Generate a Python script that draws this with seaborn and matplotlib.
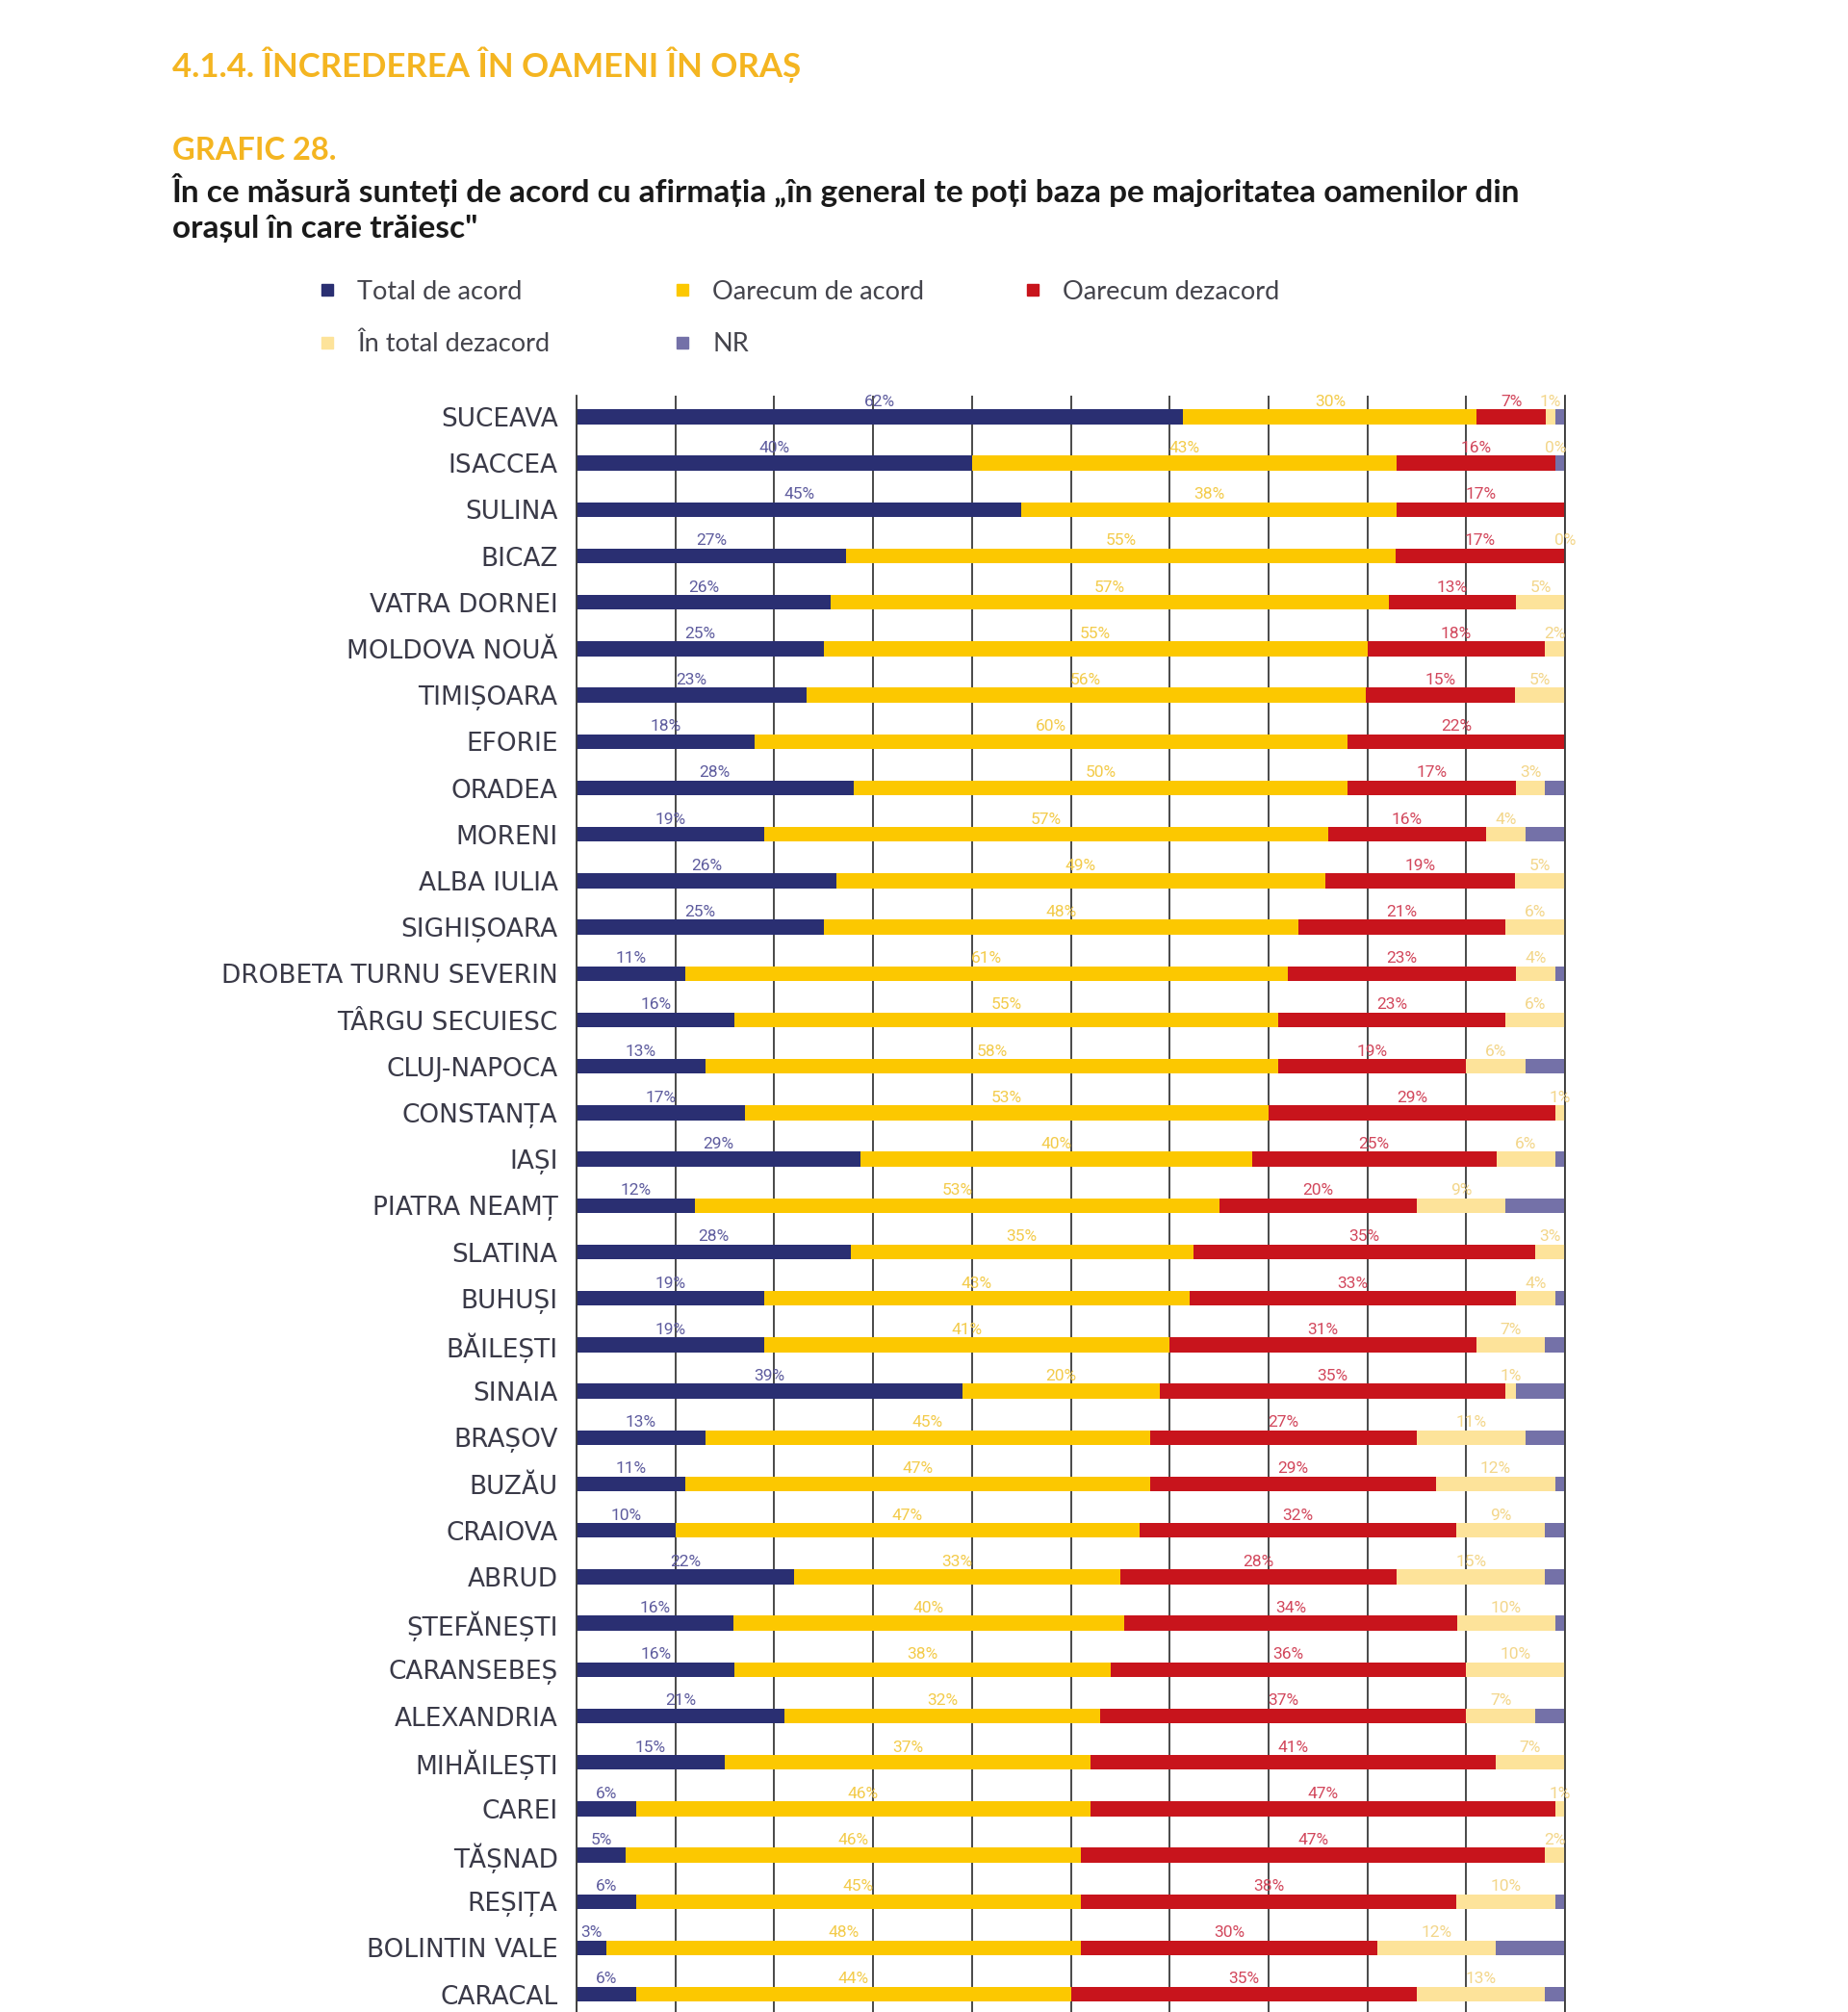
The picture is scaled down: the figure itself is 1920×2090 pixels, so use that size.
import pandas as pd
import seaborn as sns
import matplotlib.pyplot as plt
from matplotlib.lines import Line2D

# date (procente)
cities = ["SUCEAVA", "ISACCEA", "SULINA", "BICAZ", "VATRA DORNEI", "MOLDOVA NOUĂ",
          "TIMIȘOARA", "EFORIE", "ORADEA", "MORENI", "ALBA IULIA", "SIGHIȘOARA",
          "DROBETA TURNU SEVERIN", "TÂRGU SECUIESC", "CLUJ-NAPOCA", "CONSTANȚA", "IAȘI",
          "PIATRA NEAMȚ", "SLATINA", "BUHUȘI", "BĂILEȘTI", "SINAIA", "BRAȘOV", "BUZĂU",
          "CRAIOVA", "ABRUD", "ȘTEFĂNEȘTI", "CARANSEBEȘ", "ALEXANDRIA", "MIHĂILEȘTI",
          "CAREI", "TĂȘNAD", "REȘIȚA", "BOLINTIN VALE", "CARACAL"]
total_acord = [62, 40, 45, 27, 26, 25, 23, 18, 28, 19, 26, 25, 11, 16, 13, 17, 29, 12,
               28, 19, 19, 39, 13, 11, 10, 22, 16, 16, 21, 15, 6, 5, 6, 3, 6]
oarecum_acord = [30, 43, 38, 55, 57, 55, 56, 60, 50, 57, 49, 48, 61, 55, 58, 53, 40, 53,
                 35, 43, 41, 20, 45, 47, 47, 33, 40, 38, 32, 37, 46, 46, 45, 48, 44]
oarecum_dezacord = [7, 16, 17, 17, 13, 18, 15, 22, 17, 16, 19, 21, 23, 23, 19, 29, 25, 20,
                    35, 33, 31, 35, 27, 29, 32, 28, 34, 36, 37, 41, 47, 47, 38, 30, 35]
# None = fara eticheta in grafic
total_dezacord = [1, 0, None, 0, 5, 2, 5, None, 3, 4, 5, 6, 4, 6, 6, 1, 6, 9,
                  3, 4, 7, 1, 11, 12, 9, 15, 10, 10, 7, 7, 1, 2, 10, 12, 13]
nr = [1, 1, 0, 0, 0, 0, 0, 0, 2, 4, 0, 0, 1, 0, 4, 0, 1, 6,
      0, 1, 2, 5, 4, 1, 2, 2, 1, 0, 3, 0, 0, 0, 1, 7, 2]

series = ["Total de acord", "Oarecum de acord", "Oarecum dezacord", "În total dezacord", "NR"]
colors = ["#2a2f72", "#fcc800", "#c8141c", "#fde39a", "#7471a8"]
label_colors = ["#5e5c9e", "#f3cb4a", "#d2475c", "#f3d68a", None]

df = pd.DataFrame({
    "city": cities,
    series[0]: total_acord,
    series[1]: oarecum_acord,
    series[2]: oarecum_dezacord,
    series[3]: [v if v is not None else 0 for v in total_dezacord],
    series[4]: nr,
})
tot = df[series].sum(axis=1)
ends = df[series].cumsum(axis=1).div(tot, axis=0) * 100
ends["city"] = cities

fig = plt.figure(figsize=(19.2, 20.9), dpi=100)
ax = fig.add_axes([599 / 1920, 0.0, 1027 / 1920, 1679 / 2090])

# bare stivuite: se deseneaza capetele cumulate de la dreapta la stanga
for s, c in reversed(list(zip(series, colors))):
    sns.barplot(data=ends, x=s, y="city", order=cities, color=c, saturation=1,
                width=0.32, orient="h", errorbar=None, linewidth=0, ax=ax)

# etichete cu procente deasupra fiecarui segment
label_vals = [total_acord, oarecum_acord, oarecum_dezacord, total_dezacord]
for i in range(len(cities)):
    start = 0
    for k in range(4):
        end = ends.loc[i, series[k]]
        v = label_vals[k][i]
        if v is not None:
            ax.text((start + end) / 2, i - 0.17, f"{v}%", ha="center", va="bottom",
                    fontsize=12.5, color=label_colors[k], family=["Roboto", "DejaVu Sans"])
        start = end

ax.set_xlim(0, 100)
ax.set_ylim(34.38, -0.456)
ax.set_xticks(range(0, 101, 10))
ax.grid(axis="x", color="#3a3a3a", linewidth=1.3)
ax.set_axisbelow(True)
ax.set_xlabel("")
ax.set_ylabel("")
ax.tick_params(axis="x", length=0, labelbottom=False)
ax.tick_params(axis="y", length=0, pad=14, labelsize=19, labelcolor="#3a3a48")
for side in ["top", "bottom"]:
    ax.spines[side].set_visible(False)
for side in ["left", "right"]:
    ax.spines[side].set_color("#3a3a3a")
    ax.spines[side].set_linewidth(1.3)

fam = ["Lato", "DejaVu Sans"]
fig.text(179 / 1920, 1 - 67 / 2090, "4.1.4. ÎNCREDEREA ÎN OAMENI ÎN ORAȘ", color="#f4b521",
         fontsize=25, fontweight="bold", va="center", family=fam)
fig.text(179 / 1920, 1 - 157 / 2090, "GRAFIC 28.", color="#f4b521",
         fontsize=23.5, fontweight="bold", va="center", family=fam)
fig.text(179 / 1920, 1 - 197 / 2090,
         "În ce măsură sunteți de acord cu afirmația „în general te poți baza pe majoritatea oamenilor din",
         color="#1a1a1a", fontsize=24, fontweight="bold", va="center", family=fam)
fig.text(179 / 1920, 1 - 237 / 2090, "orașul în care trăiesc\"",
         color="#1a1a1a", fontsize=24, fontweight="bold", va="center", family=fam)

# legenda: cate o coloana, pozitionate ca in original
legend_cols = [([0, 3], 313), ([1, 4], 682), ([2], 1046)]
for idx, x0 in legend_cols:
    handles = [Line2D([], [], marker="s", linestyle="", color=colors[k], markersize=8)
               for k in idx]
    fig.legend(handles, [series[k] for k in idx], loc="upper left",
               bbox_to_anchor=(x0 / 1920, 1 - 277 / 2090), frameon=False,
               prop={"family": fam, "size": 19.5}, labelcolor="#44444c",
               handlelength=1.0, handletextpad=0.65, labelspacing=1.1, borderpad=0)

fig.savefig("out.png", dpi=100, facecolor="white")
